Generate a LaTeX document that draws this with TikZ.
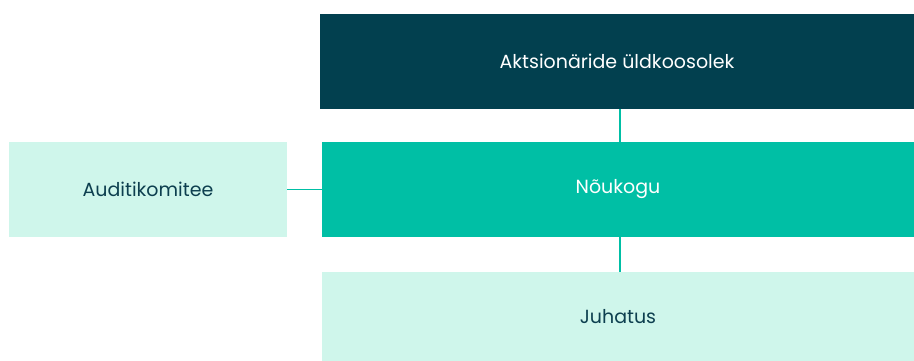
\documentclass[tikz,border=0pt]{standalone}
\usepackage{fontspec}
\setmainfont{Poppins}
\usepackage{tikz}
\definecolor{darkteal}{HTML}{02404F}
\definecolor{teal}{HTML}{00BFA5}
\definecolor{mint}{HTML}{CFF6EB}
\definecolor{inkteal}{HTML}{0D3F4F}

\begin{document}
\begin{tikzpicture}[x=1pt,y=-1pt,
  box/.style={rectangle,inner sep=0pt,font=\fontsize{19}{22}\selectfont},
  link/.style={draw=teal,line width=1.2pt}]
  \useasboundingbox (0,0) rectangle (914,361);
  \draw(617,61.5) node[box,minimum width=594pt,minimum height=95pt,fill=darkteal,text=white] (GA) {Aktsionäride üldkoosolek};
  \draw(618,189.5) node[box,minimum width=592pt,minimum height=95pt,fill=teal,text=white] (SB) {Nõukogu};
  \draw(148,189.5) node[box,minimum width=278pt,minimum height=95pt,fill=mint,text=inkteal] (AC) {Auditikomitee};
  \draw(618,316.5) node[box,minimum width=592pt,minimum height=89pt,fill=mint,text=inkteal] (MB) {Juhatus};
  \draw[link] (GA.south -| 620,0) -- (SB.north -| 620,0);
  \draw[link] (SB.south -| 620,0) -- (MB.north -| 620,0);
  \draw[link] (AC.east) -- (SB.west);
\end{tikzpicture}
\end{document}
